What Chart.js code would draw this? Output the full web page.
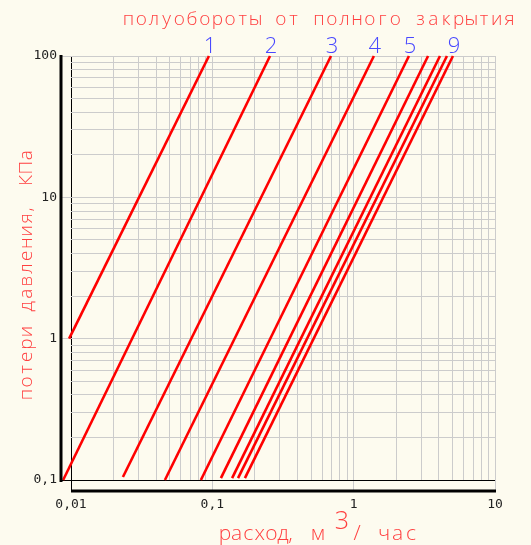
<!DOCTYPE html>
<html lang="ru">
<head>
  <meta charset="UTF-8">
  <title>Потери давления</title>
  <style>
    body { margin: 0; background: #FDFBEF; }
    #wrap { width: 531px; height: 545px; }
  </style>
</head>
<body>
  <div id="wrap"><canvas id="myChart" width="531" height="545"></canvas></div>
  <script src="https://cdn.jsdelivr.net/npm/chart.js@4"></script>
  <script>
    // one line per half-turn of the valve
    const turns = ['1', '2', '3', '4', '5', '6', '7', '8', '9'];
    const turnLabels = ['1', '2', '3', '4', '5', '', '', '', '9'];
    // flow (m3/h) at the lower and upper end of each line
    const flowLow  = [0.0097, 0.0088, 0.0233, 0.0462, 0.083, 0.115, 0.138, 0.152, 0.170];
    const flowHigh = [0.0946, 0.256, 0.691, 1.39, 2.46, 3.36, 4.08, 4.57, 5.04];
    // pressure loss (kPa) at the same ends
    const lossLow  = [1, 0.1, 0.105, 0.1, 0.1, 0.103, 0.103, 0.103, 0.103];
    const lossHigh = [100, 100, 100, 100, 100, 100, 100, 100, 100];

    const xMajor = [0.01, 0.1, 1, 10];
    const xMajorLabels = ['0,01', '0,1', '1', '10'];
    const yMajor = [0.1, 1, 10, 100];
    const yMajorLabels = ['0,1', '1', '10', '100'];

    const GRID = '#cccccc';

    function logGrid(majors) {
      const out = [];
      for (let i = 0; i < majors.length - 1; i++) {
        for (let m = 1; m < 10; m++) out.push(+(majors[i] * m).toPrecision(3));
      }
      out.push(majors[majors.length - 1]);
      return out;
    }
    function majorIndex(v, majors) {
      return majors.findIndex(m => Math.abs(m - v) < m * 1e-6);
    }

    // monospaced-looking text: each char centred in its own cell,
    // commas pulled in towards the letter before them
    function drawMono(ctx, str, cx0, pitch, y) {
      ctx.textAlign = 'center';
      for (let i = 0; i < str.length; i++) {
        const dx = str[i] === ',' ? -4 : 0;
        ctx.fillText(str[i], cx0 + i * pitch + dx, y);
      }
    }

    const extras = {
      id: 'extras',
      beforeDraw(chart) {
        const ctx = chart.ctx;
        ctx.save();
        ctx.fillStyle = '#FDFBEF';
        ctx.fillRect(0, 0, chart.width, chart.height);
        ctx.restore();
      },
      afterDraw(chart) {
        const ctx = chart.ctx;
        const a = chart.chartArea;
        ctx.save();

        // thick axes, set off from the grid
        ctx.strokeStyle = '#000';
        ctx.lineWidth = 3;
        ctx.beginPath();
        ctx.moveTo(a.left - 10, a.top - 1);
        ctx.lineTo(a.left - 10, a.bottom + 2);
        ctx.stroke();
        ctx.beginPath();
        ctx.moveTo(a.left, a.bottom + 11);
        ctx.lineTo(a.right + 1, a.bottom + 11);
        ctx.stroke();

        // half-turn numbers over the line ends
        ctx.fillStyle = '#4848FF';
        ctx.font = '300 22px "Open Sans"';
        ctx.textAlign = 'center';
        ctx.textBaseline = 'alphabetic';
        chart.data.datasets.forEach((ds, i) => {
          if (!turnLabels[i]) return;
          const p = chart.getDatasetMeta(i).data[1];
          ctx.fillText(turnLabels[i], p.x + 1, p.y - 3);
        });

        // titles
        ctx.fillStyle = '#FF4040';
        ctx.font = '300 19px "Open Sans"';
        drawMono(ctx, 'полуобороты от полного закрытия', 128.5, 12.7, 25);

        ctx.save();
        ctx.translate(32, 0);
        ctx.rotate(-Math.PI / 2);
        drawMono(ctx, 'потери давления, КПа', -394.5, 12.6, 0);
        ctx.restore();

        ctx.font = '300 21px "Open Sans"';
        drawMono(ctx, 'расход, м', 225, 11.6, 540);
        drawMono(ctx, '/ час', 357, 13.5, 540);
        ctx.font = '300 25px "Open Sans"';
        ctx.textAlign = 'center';
        ctx.fillText('3', 342, 529);

        ctx.restore();
      }
    };

    const datasets = turns.map((t, i) => ({
      label: t,
      data: [{ x: flowLow[i], y: lossLow[i] }, { x: flowHigh[i], y: lossHigh[i] }],
      borderColor: '#FF0000',
      borderWidth: 2.6,
      pointRadius: 0,
      fill: false,
      clip: false
    }));

    new Chart(document.getElementById('myChart'), {
      type: 'line',
      data: { datasets: datasets },
      options: {
        responsive: false,
        animation: false,
        events: [],
        layout: { padding: { left: 0, top: 56, right: 36, bottom: 0 } },
        plugins: { legend: { display: false }, tooltip: { enabled: false } },
        scales: {
          x: {
            type: 'logarithmic',
            min: 0.01,
            max: 10,
            afterBuildTicks: s => { s.ticks = logGrid(xMajor).map(v => ({ value: v })); },
            afterFit: s => { s.height = 65; },
            border: { display: false },
            grid: {
              color: c => (c.tick && c.tick.value === 0.01 ? '#000' : GRID),
              tickColor: c => {
                const k = c.tick ? majorIndex(c.tick.value, xMajor) : -1;
                if (k < 0) return 'rgba(0,0,0,0)';
                return k === 0 ? '#000' : GRID;
              },
              tickLength: 11,
              lineWidth: 1
            },
            ticks: {
              autoSkip: false,
              maxRotation: 0,
              padding: 6,
              color: '#222',
              font: { family: '"DejaVu Sans Mono"', size: 13 },
              callback: v => {
                const k = majorIndex(v, xMajor);
                return k < 0 ? '' : xMajorLabels[k];
              }
            }
          },
          y: {
            type: 'logarithmic',
            min: 0.1,
            max: 100,
            afterBuildTicks: s => { s.ticks = logGrid(yMajor).map(v => ({ value: v })); },
            afterFit: s => { s.width = 71; },
            border: { display: false },
            grid: {
              color: c => (c.tick && c.tick.value === 0.1 ? '#000' : GRID),
              tickColor: c => {
                const k = c.tick ? majorIndex(c.tick.value, yMajor) : -1;
                if (k < 0) return 'rgba(0,0,0,0)';
                return k === 0 ? '#000' : GRID;
              },
              tickLength: 10,
              lineWidth: 1
            },
            ticks: {
              autoSkip: false,
              padding: 4,
              color: '#222',
              font: { family: '"DejaVu Sans Mono"', size: 13 },
              callback: v => {
                const k = majorIndex(v, yMajor);
                return k < 0 ? '' : yMajorLabels[k];
              }
            }
          }
        }
      },
      plugins: [extras]
    });
  </script>
</body>
</html>
